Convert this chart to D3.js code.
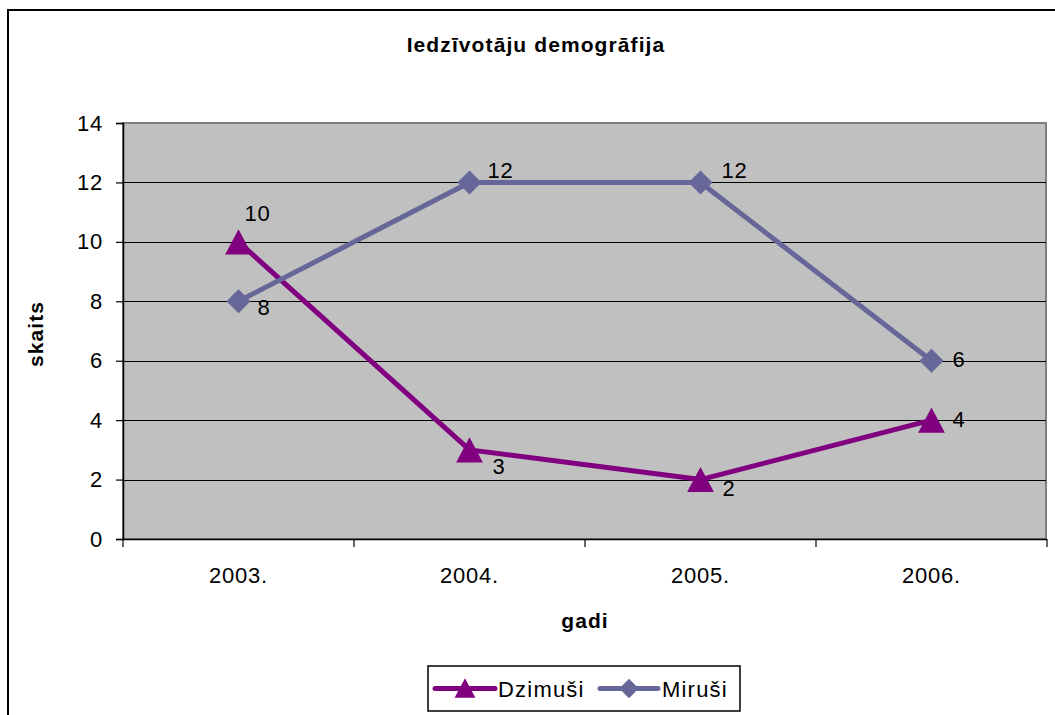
<!DOCTYPE html>
<html>
<head>
<meta charset="utf-8">
<script src="https://cdn.jsdelivr.net/npm/d3@7"></script>
<style>
  html, body { margin: 0; padding: 0; background: #fff; }
  svg text { font-family: "Liberation Sans", Arial, sans-serif; fill: #000; }
</style>
</head>
<body>
<svg id="chart" width="1055" height="715"></svg>
<script>
const title = "Iedzīvotāju demogrāfija";
const xTitle = "gadi";
const yTitle = "skaits";
const categories = ["2003.", "2004.", "2005.", "2006."];
const seriesNames = ["Dzimuši", "Miruši"];
const dzimusi = [10, 3, 2, 4];
const mirusi = [8, 12, 12, 6];
const yTicks = [0, 2, 4, 6, 8, 10, 12, 14];

const colors = ["#800080", "#666699"];

const svg = d3.select("#chart");
const W = 1055, H = 715;
const plot = { left: 123, right: 1046, top: 123, bottom: 539 };

// outer chart border (only top and left visible)
svg.append("rect").attr("x", 8).attr("y", 10).attr("width", W + 20).attr("height", H + 20)
  .attr("fill", "#fff").attr("stroke", "#000").attr("stroke-width", 2);

const x = d3.scaleBand().domain(categories).range([plot.left, plot.right + 1]);
const y = d3.scaleLinear().domain([0, 14]).range([plot.bottom, plot.top]);

// plot background
svg.append("rect").attr("x", plot.left).attr("y", plot.top)
  .attr("width", plot.right - plot.left).attr("height", plot.bottom - plot.top)
  .attr("fill", "#c0c0c0").attr("stroke", "#808080").attr("stroke-width", 2);

// gridlines
svg.append("g").selectAll("line").data(yTicks.filter(t => t > 0 && t < 14)).join("line")
  .attr("x1", plot.left).attr("x2", plot.right)
  .attr("y1", d => Math.round(y(d)) + 0.5).attr("y2", d => Math.round(y(d)) + 0.5)
  .attr("stroke", "#000").attr("stroke-width", 1.2);

const tickFont = g => g.selectAll(".tick text")
  .style("font-size", "22px").style("letter-spacing", "0.8px")
  .style("font-family", "'Liberation Sans', Arial, sans-serif");

// y axis
const yAxis = d3.axisLeft(y).tickValues(yTicks).tickSize(7).tickPadding(13).tickFormat(d3.format("d"));
const gy = svg.append("g").attr("transform", `translate(${plot.left},0)`).call(yAxis);
gy.select(".domain").attr("stroke", "#000").attr("stroke-width", 1.5);
gy.selectAll(".tick line").attr("stroke", "#000").attr("stroke-width", 1.2);
tickFont(gy);

// x axis
const xAxis = d3.axisBottom(x).tickSize(0).tickPadding(28);
const gx = svg.append("g").attr("transform", `translate(0,${plot.bottom})`).call(xAxis);
gx.select(".domain").attr("stroke", "#000").attr("stroke-width", 1.5).attr("d", `M${plot.left},0.5H${plot.right + 1}`);
tickFont(gx);
// category boundary ticks
const bounds = categories.map(c => x(c)).concat([x(categories[categories.length - 1]) + x.bandwidth()]);
gx.append("g").selectAll("line").data(bounds).join("line")
  .attr("x1", d => d).attr("x2", d => d).attr("y1", 0).attr("y2", 8)
  .attr("stroke", "#000").attr("stroke-width", 1.2);

// lines and markers
const allSeries = [dzimusi, mirusi];
const cx = c => x(c) + x.bandwidth() / 2;
const line = d3.line().x((d, i) => cx(categories[i])).y(d => y(d));

// label placement offsets relative to each point [dx, dy] (style, not data)
const labelOffsets = [
  [[6, -21], [23, 24], [22, 16], [21, 7]],
  [[19, 14], [18, -4], [21, -4], [21, 6]]
];

// triangle centred on its bounding box, like the reference marker
const triType = {
  draw(ctx, size) {
    const w = Math.sqrt(size) * 0.75, h = Math.sqrt(size) * 0.7;
    ctx.moveTo(0, -h);
    ctx.lineTo(w, h);
    ctx.lineTo(-w, h);
    ctx.closePath();
  }
};
function marker(s, scale) {
  if (s === 0) return d3.symbol().type(triType).size(320 * scale)();
  return d3.symbol().type(d3.symbolSquare).size(290 * scale)();
}

allSeries.forEach((vals, s) => {
  svg.append("path").datum(vals).attr("d", line).attr("fill", "none")
    .attr("stroke", colors[s]).attr("stroke-width", 5).attr("stroke-linejoin", "round");
});
allSeries.forEach((vals, s) => {
  const g = svg.append("g");
  g.selectAll("path.m").data(vals).join("path").attr("class", "m")
    .attr("d", marker(s, 1))
    .attr("transform", (d, i) => s === 0
      ? `translate(${cx(categories[i])},${y(d)})`
      : `translate(${cx(categories[i])},${y(d)}) rotate(45)`)
    .attr("fill", colors[s]);
  g.selectAll("text").data(vals).join("text")
    .attr("x", (d, i) => cx(categories[i]) + labelOffsets[s][i][0])
    .attr("y", (d, i) => y(d) + labelOffsets[s][i][1])
    .style("font-size", "22px").style("letter-spacing", "0.8px")
    .text(d => d);
});

const boldText = sel => sel.style("font-size", "21px").style("font-weight", "bold").style("letter-spacing", "1.1px");

// title
svg.append("text").attr("x", 536).attr("y", 52).attr("text-anchor", "middle").call(boldText).text(title);

// axis titles
svg.append("text").attr("x", 585).attr("y", 628).attr("text-anchor", "middle").call(boldText).text(xTitle);
svg.append("text").attr("transform", "translate(43,334) rotate(-90)").attr("text-anchor", "middle")
  .call(boldText).text(yTitle);

// legend
const lg = svg.append("g");
lg.append("rect").attr("x", 428).attr("y", 666).attr("width", 312).attr("height", 45)
  .attr("fill", "#fff").attr("stroke", "#000").attr("stroke-width", 1.5);
const legendItems = [
  { x0: 435, x1: 495, tx: 498 },
  { x0: 600, x1: 658, tx: 662 }
];
seriesNames.forEach((name, s) => {
  const it = legendItems[s];
  lg.append("line").attr("x1", it.x0).attr("x2", it.x1).attr("y1", 688.5).attr("y2", 688.5)
    .attr("stroke", colors[s]).attr("stroke-width", 5).attr("stroke-linecap", "round");
  lg.append("path").attr("d", marker(s, s === 0 ? 0.6 : 0.65))
    .attr("transform", s === 0
      ? `translate(${(it.x0 + it.x1) / 2},688)`
      : `translate(${(it.x0 + it.x1) / 2},688.5) rotate(45)`)
    .attr("fill", colors[s]);
  lg.append("text").attr("x", it.tx).attr("y", 697)
    .style("font-size", "22px").style("letter-spacing", "1.2px")
    .text(name);
});
</script>
</body>
</html>
